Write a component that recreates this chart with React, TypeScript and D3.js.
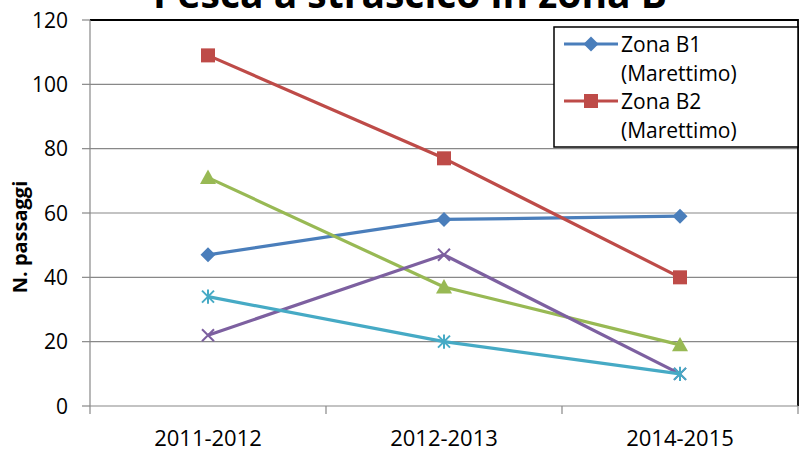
import React from "react";
import * as d3 from "d3";

const categories = ["2011-2012", "2012-2013", "2014-2015"];
const yTicks = [0, 20, 40, 60, 80, 100, 120];

const seriesNames = ["Zona B1 (Marettimo)", "Zona B2 (Marettimo)", "Zona B3", "Zona B4", "Zona B5"];
const b1Values = [47, 58, 59];
const b2Values = [109, 77, 40];
const b3Values = [71, 37, 19];
const b4Values = [22, 47, 10];
const b5Values = [34, 20, 10];
const seriesColors = ["#4A7EBB", "#BE4B48", "#98B954", "#7D60A0", "#46AAC5"];
const seriesMarkers = ["diamond", "square", "triangle", "x", "star"];

const W = 801;
const H = 452;
const margin = { top: 20, right: 3, bottom: 46, left: 90 };

const font = "'Open Sans', 'Liberation Sans', sans-serif";

const Marker = ({ type, x, y, color }) => {
    if (type === "diamond") {
        const s = 7.5;
        return <path d={`M${x},${y - s}L${x + s},${y}L${x},${y + s}L${x - s},${y}Z`} fill={color} />;
    }
    if (type === "square") {
        const s = 7;
        return <rect x={x - s} y={y - s} width={2 * s} height={2 * s} fill={color} />;
    }
    if (type === "triangle") {
        const s = 8;
        return <path d={`M${x},${y - s}L${x + s},${y + s * 0.8}L${x - s},${y + s * 0.8}Z`} fill={color} />;
    }
    if (type === "x") {
        const s = 6;
        return (
            <path d={`M${x - s},${y - s}L${x + s},${y + s}M${x + s},${y - s}L${x - s},${y + s}`}
                stroke={color} strokeWidth={2} />
        );
    }
    const s = 6;
    return (
        <path
            d={`M${x - s},${y - s}L${x + s},${y + s}M${x + s},${y - s}L${x - s},${y + s}M${x},${y - s * 1.2}L${x},${y + s * 1.2}`}
            stroke={color} strokeWidth={2} />
    );
};

export default function App() {
    const allSeries = [b1Values, b2Values, b3Values, b4Values, b5Values];
    const innerW = W - margin.left - margin.right;
    const innerH = H - margin.top - margin.bottom;

    const x = d3.scaleBand().domain(categories).range([margin.left, margin.left + innerW]);
    const y = d3.scaleLinear().domain([0, 120]).range([margin.top + innerH, margin.top]);
    const cx = (c) => x(c) + x.bandwidth() / 2;

    const line = d3.line()
        .x((d, i) => cx(categories[i]))
        .y((d) => y(d));

    const bounds = categories.map((c) => x(c)).concat([margin.left + innerW]);

    // legend box
    const lg = { x: 554, y: 27, w: 244, h: 120 };

    return (
        <div style={{ position: "absolute", left: 0, top: 0 }}>
            <svg width={W} height={H} style={{ display: "block", background: "#fff" }}>
                <text x={410} y={8} textAnchor="middle" fontFamily={font} fontWeight="bold" fontSize={39}>
                    Pesca a strascico in zona B
                </text>

                {/* gridlines */}
                {yTicks.slice(1, -1).map((t) => (
                    <line key={t} x1={margin.left} x2={margin.left + innerW} y1={y(t)} y2={y(t)}
                        stroke="#888" strokeWidth={1.2} />
                ))}

                {/* plot border */}
                <path d={`M${margin.left},${y(120)}H${margin.left + innerW}V${y(0)}`}
                    fill="none" stroke="#000" strokeWidth={1.8} />

                {/* y axis */}
                <line x1={margin.left} x2={margin.left} y1={y(0)} y2={y(120)} stroke="#888" strokeWidth={1.2} />
                {yTicks.map((t) => (
                    <g key={t}>
                        <line x1={margin.left - 8} x2={margin.left} y1={y(t)} y2={y(t)} stroke="#888" strokeWidth={1.2} />
                        <text x={68} y={y(t)} dy="0.36em" textAnchor="end"
                            fontFamily={font} fontSize={21}>{t}</text>
                    </g>
                ))}

                {/* x axis */}
                <line x1={margin.left} x2={margin.left + innerW} y1={y(0)} y2={y(0)} stroke="#888" strokeWidth={1.2} />
                {bounds.map((b, i) => (
                    <line key={i} x1={b} x2={b} y1={y(0)} y2={y(0) + 8} stroke="#888" strokeWidth={1.2} />
                ))}
                {categories.map((c) => (
                    <text key={c} x={cx(c)} y={446} textAnchor="middle" fontFamily={font} fontSize={22}>{c}</text>
                ))}

                <text transform={`translate(27,${(y(0) + y(120)) / 2 + 24}) rotate(-90)`} textAnchor="middle"
                    fontFamily={font} fontWeight="bold" fontSize={20}>N. passaggi</text>

                {/* series */}
                {allSeries.map((vals, si) => (
                    <g key={si}>
                        <path d={line(vals)} fill="none" stroke={seriesColors[si]} strokeWidth={3.2} strokeLinejoin="round" />
                        {vals.map((v, i) => (
                            <Marker key={i} type={seriesMarkers[si]} x={cx(categories[i])} y={y(v)} color={seriesColors[si]} />
                        ))}
                    </g>
                ))}

                {/* legend */}
                <rect x={lg.x} y={lg.y} width={lg.w} height={lg.h} fill="#fff" stroke="#000" strokeWidth={1.5} />
                {seriesNames.slice(0, 2).map((name, i) => {
                    const [l1, l2] = [name.split(" (")[0], "(" + name.split(" (")[1]];
                    const ty = lg.y + 17 + i * 57;
                    return (
                        <g key={name}>
                            <line x1={564} x2={618} y1={ty} y2={ty} stroke={seriesColors[i]} strokeWidth={3.2} />
                            <Marker type={seriesMarkers[i]} x={591} y={ty} color={seriesColors[i]} />
                            <text x={621} y={ty} dy="0.36em" fontFamily={font} fontSize={21}>{l1}</text>
                            <text x={621} y={ty + 29} dy="0.36em" fontFamily={font} fontSize={21}>{l2}</text>
                        </g>
                    );
                })}
            </svg>
        </div>
    );
}
